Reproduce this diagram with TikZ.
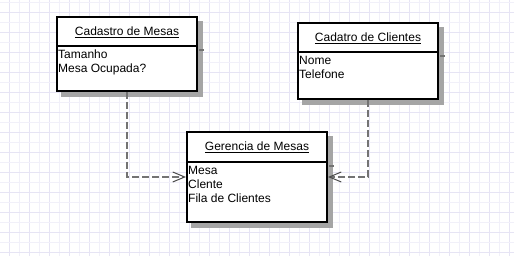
\documentclass[tikz,border=0pt]{standalone}
\usepackage{fontspec}
\setmainfont{Liberation Sans}
\usetikzlibrary{arrows.meta,backgrounds}

\definecolor{gridA}{RGB}{230,228,244}
\definecolor{gridB}{RGB}{241,240,249}
\definecolor{shadowgray}{RGB}{165,165,165}

\tikzset{
  classbox/.style={draw, line width=2pt, fill=white, minimum width=140pt, inner sep=0pt},
  classshadow/.style={fill=shadowgray},
  classtitle/.style={anchor=base, inner sep=0pt},
  attr/.style={anchor=north west, align=left, inner sep=0pt},
  divider/.style={line width=2pt},
  shadowline/.style={line width=1.5pt, black!55},
  dep/.style={line width=1.6pt, black!55, dash pattern=on 7pt off 3pt,
    -{Straight Barb[length=12pt, width=10pt, line width=1pt, black!70]}},
}

\begin{document}
\begin{tikzpicture}[x=1pt, y=-1pt, font=\fontsize{12}{14}\selectfont, line join=miter]
  \useasboundingbox (0,0) rectangle (514,256);

  % Cadastro de Mesas
  \node[classbox, minimum height=74pt] (mesas) at (127,54) {};
  \draw[divider] ([yshift=-30pt]mesas.north west) -- ([yshift=-30pt]mesas.north east);
  \node[classtitle] (mesas-t) at ([yshift=-19.5pt]mesas.north) {\underline{Cadastro de Mesas}};
  \node[attr] (mesas-a) at ([shift={(2pt,-34pt)}]mesas.north west) {Tamanho\\Mesa Ocupada?};

  % Cadatro de Clientes
  \node[classbox, minimum height=76pt] (clientes) at (368,61) {};
  \draw[divider] ([yshift=-30pt]clientes.north west) -- ([yshift=-30pt]clientes.north east);
  \node[classtitle] (clientes-t) at ([yshift=-19.5pt]clientes.north) {\underline{Cadatro de Clientes}};
  \node[attr] (clientes-a) at ([shift={(2pt,-34pt)}]clientes.north west) {Nome\\Telefone};

  % Gerencia de Mesas
  \node[classbox, minimum height=90pt] (gerencia) at (257,177) {};
  \draw[divider] ([yshift=-31pt]gerencia.north west) -- ([yshift=-31pt]gerencia.north east);
  \node[classtitle] (gerencia-t) at ([yshift=-19.5pt]gerencia.north) {\underline{Gerencia de Mesas}};
  \node[attr] (gerencia-a) at ([shift={(2pt,-35pt)}]gerencia.north west) {Mesa\\Clente\\Fila de Clientes};

  % dependencias
  \draw[dep] (mesas.south) |- (gerencia.west);
  \draw[dep] (clientes.south) |- (gerencia.east);

  \begin{scope}[on background layer]
    \fill[white] (0,0) rectangle (514,256);
    % grid
    \foreach \k in {0,...,50} {
      \pgfmathsetmacro\gx{9+10*\k}
      \ifodd\k \def\gc{gridB}\else\def\gc{gridA}\fi
      \draw[\gc, line width=1pt] (\gx,0) -- (\gx,256);
    }
    \foreach \k in {0,...,25} {
      \pgfmathsetmacro\gy{3+10*\k}
      \ifodd\k \def\gc{gridA}\else\def\gc{gridB}\fi
      \draw[\gc, line width=1pt] (0,\gy) -- (514,\gy);
    }
    % shadows
    \foreach \b/\d in {mesas/30, clientes/30, gerencia/31} {
      \fill[classshadow] ([shift={(5pt,-5pt)}]\b.north west) rectangle ([shift={(5pt,-5pt)}]\b.south east);
      \draw[shadowline] ([shift={(1pt,-\d pt-4pt)}]\b.north east) -- ++(5,0);
    }
  \end{scope}
\end{tikzpicture}
\end{document}
